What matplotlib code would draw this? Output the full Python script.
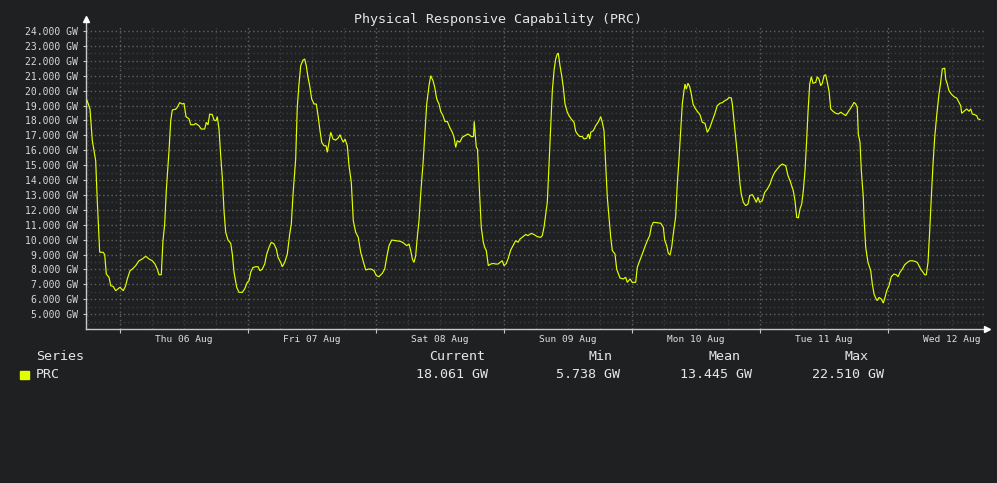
import matplotlib
matplotlib.use("Agg")
import matplotlib.pyplot as plt

# ---------------- data ----------------
# hours relative to Thu 06 Aug 00:00
hours = [
    -6.19, -5.63, -5.19, -4.56, -4.26, -3.81, -3.19, -2.87, -2.57, -2.06, -1.74, -1.26, -0.81, 0.00,
    0.62, 1.07, 1.37, 1.88, 2.31, 2.94, 3.56, 4.18, 4.82, 5.44, 6.06, 6.56, 6.99, 7.31, 7.74,
    8.06, 8.38, 8.68, 9.19, 9.51, 9.81, 10.44, 10.74, 11.19, 11.68, 12.00, 12.38, 12.94, 13.26,
    13.88, 14.19, 14.81, 15.24, 15.88, 16.18, 16.50, 16.82, 17.31, 17.63, 18.00, 18.24, 18.56,
    18.88, 19.18, 19.50, 19.82, 20.25, 20.76, 21.06, 21.38, 21.88, 22.31, 22.93, 23.38, 23.87,
    24.19, 24.51, 24.94, 25.44, 25.88, 26.25, 26.68, 27.13, 27.51,
    27.94, 28.37, 28.88, 29.31, 29.63, 30.13, 30.43, 30.88, 31.37, 31.82, 32.12, 32.49, 32.94,
    33.24, 33.56, 33.88, 34.31, 34.63, 34.93, 35.25, 35.57, 35.94, 36.38, 36.81, 37.18, 37.50,
    37.82, 38.25, 38.63, 38.87, 39.19, 39.51, 39.94, 40.44, 40.88, 41.25, 41.57, 41.87, 42.19,
    42.62, 42.94, 43.37, 43.74, 44.19, 44.68, 45.13, 45.62, 46.07, 46.56, 47.12, 47.63, 48.06,
    48.56, 49.18, 49.63, 50.01, 50.44, 50.94, 51.69, 52.63, 53.25, 53.76, 54.19, 54.51, 54.81,
    55.13, 55.44, 55.74, 56.06, 56.38, 56.81, 57.13, 57.51, 57.94, 58.26, 58.69, 59.01, 59.38,
    59.81, 60.13, 60.56, 60.94, 61.37,
    61.82, 62.31, 62.63, 62.94, 63.24, 63.69, 64.18, 64.69, 65.25, 65.87, 66.28, 66.41, 66.81,
    67.03, 67.44, 67.74, 68.12, 68.38, 68.68, 69.06, 69.51, 69.99, 70.44, 70.88, 71.25, 71.68,
    72.00, 72.43, 72.75, 73.26, 73.69, 74.19, 74.63, 75.00, 75.56, 76.07, 76.50, 77.12, 77.63,
    78.24, 78.88, 79.18, 79.50, 79.82, 80.12, 80.44, 80.76, 81.06, 81.38, 81.69, 81.99, 82.18,
    82.50, 82.82, 83.12, 83.44, 83.87, 84.19, 84.62, 85.13, 85.44, 85.74, 86.19, 86.68, 87.00,
    87.51, 87.81, 88.07, 88.26, 88.74, 89.19, 89.63, 90.13, 90.43, 90.75, 91.07, 91.37, 91.69,
    92.01, 92.31, 92.81, 93.13, 93.75, 94.37, 94.82, 95.12,
    95.63, 96.06, 96.69, 96.99, 97.44, 97.93, 98.38, 98.87, 99.32, 99.62, 99.99, 100.56, 101.38,
    101.87, 102.13, 102.51, 102.81, 103.13, 103.44, 103.74, 104.19, 104.49, 104.81, 105.13,
    105.43, 105.75, 105.94, 106.18, 106.50, 106.82, 107.12, 107.44, 107.81, 108.24, 108.75,
    109.18, 109.69, 110.12, 110.57, 111.06, 111.51, 111.99, 112.50, 112.93, 113.38, 113.87,
    114.19, 114.62, 114.81, 115.13, 115.56, 115.93, 116.25, 116.49, 116.87, 117.32, 117.75,
    118.07, 118.56, 119.01, 119.31, 119.63, 119.94, 120.43, 120.88, 121.37, 121.88, 122.31,
    122.76, 123.24, 123.75, 124.18, 124.82, 125.25, 125.63, 125.94, 126.24, 126.56, 126.88,
    127.18, 127.50, 127.82, 128.12, 128.44, 128.76, 129.00, 129.32,
    129.62, 129.94, 130.44, 130.74, 131.06, 131.38, 131.68, 132.00, 132.32, 132.62, 132.94,
    133.26, 133.69, 134.19, 134.68, 135.13, 135.62, 136.07, 136.50, 137.01, 137.31, 137.63,
    137.94, 138.24, 138.43, 138.75, 139.00, 139.37, 139.50, 139.82, 140.25, 140.76, 141.06,
    141.38, 141.69, 141.99, 142.31, 142.74, 143.12, 143.44, 143.76, 144.19, 144.62, 145.13,
    145.56, 145.88, 146.25, 146.68, 147.13, 147.62, 148.13, 148.56, 149.06, 149.49, 149.81,
    150.13, 150.56, 150.88, 151.18, 151.50, 151.82, 152.12, 152.44, 152.76, 153.13, 153.56,
    153.88, 154.18, 154.63, 154.82, 155.12, 155.44, 155.87, 156.38, 156.88, 157.31, 157.63,
    157.82, 158.25, 158.76, 159.19, 159.51, 159.81, 160.26, 160.63, 160.88, 161.25,
]
prc_gw = [
    19.35, 18.77, 16.64, 15.30, 12.61, 9.15, 9.15, 9.00, 7.69, 7.47, 6.91, 6.85, 6.57, 6.80,
    6.57, 6.91, 7.36, 7.91, 8.02, 8.25, 8.58, 8.70, 8.88, 8.70, 8.58, 8.36, 8.02, 7.64, 7.64,
    9.93, 11.05, 13.28, 15.97, 17.98, 18.70, 18.75, 18.88, 19.19, 19.10, 19.15, 18.25, 18.10, 17.71,
    17.71, 17.80, 17.64, 17.42, 17.42, 17.87, 17.70, 18.43, 18.38, 18.02, 17.98, 18.25, 17.42,
    15.63, 14.18, 11.94, 10.49, 9.97, 9.75, 9.03, 7.81, 6.80, 6.46, 6.46, 6.69, 7.13,
    7.24, 7.81, 8.13, 8.18, 8.18, 7.91, 8.02, 8.36, 9.03,
    9.48, 9.82, 9.71, 9.37, 8.81, 8.47, 8.18, 8.47, 9.03, 10.38, 11.05, 13.28, 15.41,
    18.88, 20.44, 21.67, 22.05, 22.12, 21.67, 20.89, 20.33, 19.44, 19.10, 19.10, 18.21, 17.31,
    16.53, 16.30, 16.30, 15.86, 16.53, 17.20, 16.75, 16.68, 16.81, 17.04, 16.75, 16.53, 16.75,
    16.30, 14.96, 13.84, 11.27, 10.49, 10.15, 9.15, 8.54, 7.96, 8.02, 8.02, 7.91, 7.58,
    7.51, 7.74, 8.02, 8.81, 9.59, 9.97, 9.93, 9.88, 9.75, 9.59, 9.71, 9.26, 8.70,
    8.47, 8.92, 10.15, 11.27, 13.06, 15.07, 16.87, 19.10, 20.33, 21.00, 20.67, 20.22, 19.44,
    19.10, 18.61, 18.32, 17.91, 17.94,
    17.54, 17.20, 16.87, 16.19, 16.64, 16.53, 16.87, 16.98, 17.09, 16.92, 16.92, 17.94, 16.19,
    16.08, 12.95, 10.83, 9.82, 9.48, 9.26, 8.25, 8.36, 8.40, 8.36, 8.36, 8.47, 8.58,
    8.25, 8.40, 8.70, 9.30, 9.59, 9.93, 9.82, 10.04, 10.20, 10.34, 10.27, 10.42, 10.34,
    10.20, 10.15, 10.27, 10.83, 11.72, 12.50, 15.07, 17.54, 19.99, 21.34, 22.12, 22.46, 22.51,
    21.67, 21.00, 20.22, 19.10, 18.55, 18.32, 18.09, 17.87, 17.27, 17.09, 16.92, 16.92, 16.75,
    16.81, 17.09, 16.75, 17.20, 17.31, 17.64, 17.87, 18.25, 17.87, 17.31, 15.07, 12.84, 11.50,
    10.15, 9.26, 9.03, 8.02, 7.42, 7.36, 7.47, 7.13,
    7.36, 7.13, 7.13, 8.14, 8.58, 9.03, 9.48, 9.93, 10.27, 10.87, 11.16, 11.14, 11.10,
    10.83, 9.97, 9.59, 9.08, 8.97, 9.48, 10.38, 11.54, 13.73, 15.41, 17.31,
    19.10, 19.99, 20.44, 20.10, 20.49, 20.26, 19.77, 19.10, 18.83, 18.61, 18.38,
    17.87, 17.80, 17.20, 17.49, 17.98, 18.43, 18.99, 19.15, 19.19, 19.32, 19.41,
    19.55, 19.50, 19.10, 17.98, 16.42, 15.07, 13.73, 13.06, 12.50, 12.28, 12.39,
    12.95, 13.02, 12.73, 12.50, 12.84, 12.50, 12.61, 13.17, 13.39, 13.73, 14.18,
    14.52, 14.74, 14.96, 15.07, 14.96, 14.29, 13.95, 13.62, 13.28, 12.61, 11.50,
    11.45, 12.06, 12.39, 13.28, 14.62, 16.75, 18.55, 20.44,
    20.93, 20.49, 20.55, 20.93, 20.77, 20.33, 20.49, 21.00, 21.07, 20.55, 19.99,
    18.77, 18.61, 18.48, 18.43, 18.55, 18.43, 18.32, 18.55, 18.83, 19.00, 19.21,
    19.10, 18.88, 17.09, 16.53, 14.62, 12.84, 11.50, 9.48, 8.47, 7.91, 7.02,
    6.35, 6.08, 5.90, 6.12, 6.01, 5.74, 6.12, 6.57, 6.91, 7.51, 7.69,
    7.64, 7.51, 7.81, 8.02, 8.31, 8.47, 8.58, 8.58, 8.54, 8.47, 8.25,
    8.02, 7.81, 7.64, 7.64, 8.47, 10.60, 12.84, 15.07, 16.87, 18.32, 19.77,
    20.56, 21.45, 21.51, 20.77, 20.44, 19.99, 19.77, 19.59, 19.50, 19.21, 18.99,
    18.48, 18.61, 18.77, 18.61, 18.77, 18.43, 18.38, 18.32, 18.10, 18.06,
]

day_labels = ["Thu 06 Aug", "Fri 07 Aug", "Sat 08 Aug", "Sun 09 Aug",
              "Mon 10 Aug", "Tue 11 Aug", "Wed 12 Aug"]
y_ticks_gw = list(range(5, 25))
title = "Physical Responsive Capability (PRC)"
legend_headers = ["Current", "Min", "Mean", "Max"]
legend_values = ["18.061 GW", "5.738 GW", "13.445 GW", "22.510 GW"]
series_name = "PRC"

# ---------------- style ----------------
BG = "#1f2022"
FG = "#e6e6e6"
AXC = "#c8c8c8"
LINE = "#e2ff00"
MONO = "DejaVu Sans Mono"
W, H = 997, 483

fig = plt.figure(figsize=(W / 100, H / 100), dpi=100, facecolor=BG)
ax_l, ax_r, ax_t, ax_b = 86, 984, 26, 329
ax = fig.add_axes([ax_l / W, 1 - ax_b / H, (ax_r - ax_l) / W, (ax_b - ax_t) / H])
ax.set_facecolor(BG)

x0, x1 = -6.375, 162.0
y0, y1 = 4.0, 24.336
ax.set_xlim(x0, x1)
ax.set_ylim(y0, y1)

# grid
for k in range(-1, 28):
    h = k * 6
    if h < x0 or h > x1:
        continue
    major = (h % 24 == 0)
    ax.axvline(h, color="#626262" if major else "#3c3d40", lw=1.0,
               ls=(0, (1, 2)), zorder=1)
for k in range(9, 49):
    v = k * 0.5
    if v > 24.2:
        continue
    major = (k % 2 == 0)
    ax.axhline(v, color="#626262" if major else "#3c3d40", lw=1.0,
               ls=(0, (1, 2)), zorder=1)

ax.plot(hours, prc_gw, color=LINE, lw=0.85, zorder=3, solid_joinstyle="miter")

# spines
for s in ("top", "right"):
    ax.spines[s].set_visible(False)
for s in ("left", "bottom"):
    ax.spines[s].set_color(AXC)
    ax.spines[s].set_linewidth(1.0)
ax.spines["left"].set_bounds(y0, y1 + 0.25)

# arrows
ax.plot([x0], [y1 + 0.45], marker="^", color="#ffffff", ms=4, clip_on=False, zorder=5)
ax.plot([x1 + 0.55], [y0], marker=">", color="#ffffff", ms=4, clip_on=False, zorder=5)

# y ticks
ax.set_yticks(y_ticks_gw)
ax.set_yticklabels([f"{v:.3f} GW" for v in y_ticks_gw], family=MONO, fontsize=7, color="#d8d8d8")
ax.tick_params(axis="y", length=2.5, width=0.8, color=AXC, pad=3)

# x ticks: major at midnights (no label), labels at noon
ax.set_xticks([24 * d for d in range(0, 7)])
ax.set_xticklabels([""] * 7)
ax.set_xticks([24 * d + 12 for d in range(0, 7)], minor=True)
ax.set_xticklabels(day_labels, minor=True, family=MONO, fontsize=6.8, color="#e0e0e0")
ax.tick_params(axis="x", which="major", length=3, width=0.8, color=AXC, direction="out")
ax.tick_params(axis="x", which="minor", length=0, pad=4)

# title
fig.text(497.5 / W, 1 - 19 / H, title, ha="center", va="center",
         family=MONO, fontsize=9.6, color=FG)

# legend table
fs = 9.6
fig.text(36 / W, 1 - 356 / H, "Series", ha="left", va="center", family=MONO, fontsize=fs, color=FG)
fig.text(36 / W, 1 - 375 / H, series_name, ha="left", va="center", family=MONO, fontsize=fs, color=FG)
fig.patches.append(plt.Rectangle((20 / W, 1 - 379 / H), 9 / W, 8 / H,
                                 transform=fig.transFigure, color=LINE, figure=fig))
header_x = [429, 588, 708, 844]
value_x = [416, 556, 680, 812]
for hx, vx, htxt, vtxt in zip(header_x, value_x, legend_headers, legend_values):
    fig.text(hx / W, 1 - 356 / H, htxt, ha="left", va="center", family=MONO, fontsize=fs, color=FG)
    fig.text(vx / W, 1 - 375 / H, vtxt, ha="left", va="center", family=MONO, fontsize=fs, color=FG)

fig.savefig("out.png", dpi=100, facecolor=BG)
